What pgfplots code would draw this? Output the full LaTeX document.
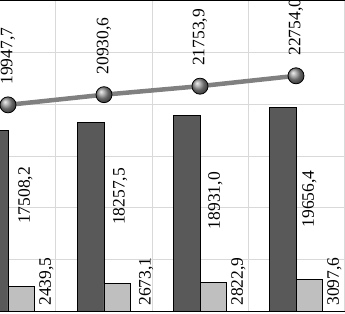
\documentclass[border=0pt]{standalone}
\usepackage{pgfplots}
\pgfplotsset{compat=1.18}
\usepackage{fontspec}
\setmainfont{Liberation Serif}
\definecolor{darkbar}{RGB}{89,89,89}
\definecolor{lightbar}{RGB}{191,191,191}
\definecolor{linegray}{RGB}{128,128,128}
\definecolor{gridgray}{RGB}{217,217,217}
\newcommand\lblfont{\fontsize{17.5}{20}\selectfont}
\tikzset{lbl/.style={rotate=90, font=\lblfont, inner sep=0pt}}
\begin{document}
\begin{tikzpicture}
\begin{axis}[
  scale only axis, width=345pt, height=310.75pt,
  xmin=-0.0833, xmax=3.5104, ymin=0, ymax=30000,
  axis line style={draw=none},
  xtick={0.5,1.5,2.5,3.5}, xticklabels={},
  ytick={0,5000,...,30000}, yticklabels={},
  major tick length=0pt,
  xmajorgrids, ymajorgrids,
  grid style={gridgray, line width=1pt},
]
\addplot[ybar, bar width=0.28, bar shift=-0.14, fill=darkbar, draw=black, line width=0.8pt]
  coordinates {(0,17508.2) (1,18257.5) (2,18931.0) (3,19656.4)};
\addplot[ybar, bar width=0.28, bar shift=0.14, fill=lightbar, draw=black, line width=0.8pt]
  coordinates {(0,2439.5) (1,2673.1) (2,2822.9) (3,3097.6)};
\addplot[linegray, line width=4.5pt, mark=ball, mark size=8pt,
  mark options={ball color=gray!85!white, draw=black, line width=0.8pt}]
  coordinates {(0,19947.7) (1,20930.6) (2,21753.9) (3,22754.0)};
\draw[black, line width=1.5pt] (rel axis cs:0,1) -- (rel axis cs:1,1);
\draw[black, line width=1pt] (rel axis cs:0,0) -- (rel axis cs:1,0);
% data labels
\node[lbl] at (axis cs:0.18,11200) {17508,2};
\node[lbl] at (axis cs:1.167,11100) {18257,5};
\node[lbl] at (axis cs:2.16,10700) {18931,0};
\node[lbl] at (axis cs:3.14,10860) {19656,4};
\node[lbl] at (axis cs:0.401,2900) {2439,5};
\node[lbl] at (axis cs:1.44,2900) {2673,1};
\node[lbl] at (axis cs:2.401,2900) {2822,9};
\node[lbl] at (axis cs:3.401,2900) {3097,6};
\node[lbl, anchor=west] at ([yshift=20pt]axis cs:0,19947.7) {19947,7};
\node[lbl, anchor=west] at ([yshift=20pt]axis cs:1,20930.6) {20930,6};
\node[lbl, anchor=west] at ([yshift=20pt]axis cs:2,21753.9) {21753,9};
\node[lbl, anchor=west] at ([yshift=20pt]axis cs:3,22754.0) {22754,0};
\coordinate (SW) at (rel axis cs:0,0);
\coordinate (NE) at (rel axis cs:1,1);
\end{axis}
\pgfresetboundingbox
\path[use as bounding box] ([yshift=-1.5pt]SW) rectangle ([yshift=0.75pt]NE);
\end{tikzpicture}
\end{document}
